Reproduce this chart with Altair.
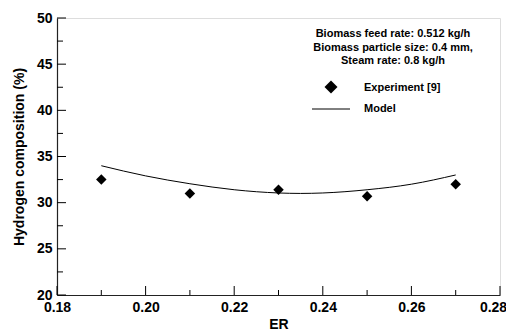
import altair as alt
import pandas as pd

# Data
exp_er = [0.19, 0.21, 0.23, 0.25, 0.27]
exp_h2 = [32.5, 31.0, 31.4, 30.7, 32.0]

model_er = [0.19, 0.20, 0.21, 0.22, 0.23, 0.235, 0.24, 0.25, 0.26, 0.27]
model_h2 = [34.0, 32.9, 32.05, 31.4, 31.05, 31.0, 31.05, 31.4, 32.0, 33.0]

x_major = [0.18, 0.20, 0.22, 0.24, 0.26, 0.28]
x_minor = [0.19, 0.21, 0.23, 0.25, 0.27]
y_major = [20, 25, 30, 35, 40, 45, 50]
y_minor = [22.5, 27.5, 32.5, 37.5, 42.5, 47.5]

annotation_lines = ["Biomass feed rate: 0.512 kg/h",
                    "Biomass particle size: 0.4 mm,",
                    "Steam rate: 0.8 kg/h"]
legend_labels = ["Experiment [9]", "Model"]

FONT = "Liberation Sans"
W, H = 443, 277

xs = alt.Scale(domain=[0.18, 0.28], nice=False, zero=False)
ys = alt.Scale(domain=[20, 50], nice=False, zero=False)

exp_df = pd.DataFrame({"ER": exp_er, "H2": exp_h2})
model_df = pd.DataFrame({"ER": model_er, "H2": model_h2})

xaxis = alt.Axis(title="ER", values=x_major, format=".2f", ticks=False,
                 labelFlush=False, labelPadding=5, labelFontSize=14,
                 labelOffset={"expr": "datum.value > 0.279 ? -7 : 0"},
                 labelFontWeight="bold", labelFont=FONT, labelColor="black",
                 titleFontSize=14, titleFontWeight="bold", titleFont=FONT,
                 titleColor="black", titlePadding=3, domainColor="#222222",
                 domainWidth=1.2, grid=False)
yaxis = alt.Axis(title="Hydrogen composition (%)", values=y_major, ticks=False,
                 labelPadding=5, labelFontSize=14, labelFontWeight="bold",
                 labelFont=FONT, labelColor="black", titleFontSize=14,
                 titleFontWeight="bold", titleFont=FONT, titleColor="black",
                 titlePadding=10, domainColor="#222222", domainWidth=1.2, grid=False)

model = alt.Chart(model_df).mark_line(color="black", strokeWidth=1,
                                      interpolate="monotone").encode(
    x=alt.X("ER:Q", scale=xs, axis=xaxis),
    y=alt.Y("H2:Q", scale=ys, axis=yaxis),
)

points = alt.Chart(exp_df).mark_point(shape="diamond", filled=True, color="black",
                                      size=110, opacity=1).encode(
    x=alt.X("ER:Q", scale=xs),
    y=alt.Y("H2:Q", scale=ys),
)

# inward ticks
xmaj = alt.Chart(pd.DataFrame({"v": x_major})).mark_rule(color="black", strokeWidth=1).encode(
    x=alt.X("v:Q", scale=xs), y=alt.value(H), y2=alt.value(H - 9))
xmin = alt.Chart(pd.DataFrame({"v": x_minor})).mark_rule(color="black", strokeWidth=1).encode(
    x=alt.X("v:Q", scale=xs), y=alt.value(H), y2=alt.value(H - 5))
ymaj = alt.Chart(pd.DataFrame({"v": y_major})).mark_rule(color="black", strokeWidth=1).encode(
    y=alt.Y("v:Q", scale=ys), x=alt.value(0), x2=alt.value(9))
ymin = alt.Chart(pd.DataFrame({"v": y_minor})).mark_rule(color="black", strokeWidth=1).encode(
    y=alt.Y("v:Q", scale=ys), x=alt.value(0), x2=alt.value(6))

ann = alt.Chart(pd.DataFrame({"t": ["\n".join(annotation_lines)]})).mark_text(
    font=FONT, fontSize=11, fontWeight="bold", color="black", align="center",
    baseline="top", lineBreak="\n", lineHeight=13.5).encode(
    text="t:N", x=alt.value(336), y=alt.value(10))

leg_sym = alt.Chart(pd.DataFrame({"l": [legend_labels[0]]})).mark_point(
    shape="diamond", filled=True, color="black", size=170, opacity=1).encode(
    x=alt.value(274), y=alt.value(69))
leg_line = alt.Chart(pd.DataFrame({"l": [legend_labels[1]]})).mark_rule(
    color="black", strokeWidth=1).encode(x=alt.value(255), x2=alt.value(293), y=alt.value(91))
leg_text1 = alt.Chart(pd.DataFrame({"l": [legend_labels[0]]})).mark_text(
    font=FONT, fontSize=11, fontWeight="bold", color="black", align="left",
    baseline="middle").encode(text="l:N", x=alt.value(307), y=alt.value(70))
leg_text2 = alt.Chart(pd.DataFrame({"l": [legend_labels[1]]})).mark_text(
    font=FONT, fontSize=11, fontWeight="bold", color="black", align="left",
    baseline="middle").encode(text="l:N", x=alt.value(307), y=alt.value(91))

chart = alt.layer(model, points, xmaj, xmin, ymaj, ymin, ann, leg_sym, leg_line,
                  leg_text1, leg_text2).properties(
    width=W, height=H, autosize="none",
    padding={"left": 49, "top": 10, "right": 6, "bottom": 36},
).configure_view(stroke=None).configure(background="white")

chart.save("out.html", embed_options={"renderer": "svg", "actions": False})
